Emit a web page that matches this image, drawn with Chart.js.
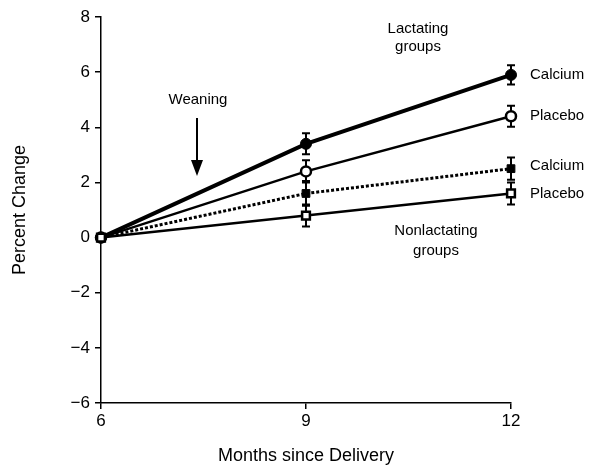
<!DOCTYPE html>
<html>
<head>
<meta charset="UTF-8">
<title>Percent Change</title>
<script src="https://cdn.jsdelivr.net/npm/chart.js"></script>
<style>
  body { margin: 0; background: #fff; }
  #wrap { width: 608px; height: 469px; }
</style>
</head>
<body>
<div id="wrap"><canvas id="chart" width="608" height="469"></canvas></div>
<script>
  const months = [6, 9, 12];
  const yTicks = [-6, -4, -2, 0, 2, 4, 6, 8];

  const lactCalcium = [0, 3.4, 5.9];
  const lactCalciumErr = [0, 0.38, 0.35];
  const lactPlacebo = [0, 2.4, 4.4];
  const lactPlaceboErr = [0, 0.4, 0.38];
  const nonCalcium = [0, 1.6, 2.5];
  const nonCalciumErr = [0, 0.45, 0.4];
  const nonPlacebo = [0, 0.8, 1.6];
  const nonPlaceboErr = [0, 0.4, 0.4];

  const pts = vals => vals.map((v, i) => ({ x: months[i], y: v }));
  const FONT = '"Liberation Sans", Arial, sans-serif';

  // error bars drawn from the scales, behind the markers
  const errorBars = {
    id: 'errorBars',
    beforeDatasetsDraw(chart) {
      const { ctx, scales: { x, y } } = chart;
      ctx.save();
      ctx.strokeStyle = '#000';
      ctx.lineWidth = 2;
      chart.data.datasets.forEach(ds => {
        ds.err.forEach((e, i) => {
          if (!e) return;
          const px = x.getPixelForValue(months[i]);
          const top = y.getPixelForValue(ds.data[i].y + e);
          const bot = y.getPixelForValue(ds.data[i].y - e);
          ctx.beginPath();
          ctx.moveTo(px, top); ctx.lineTo(px, bot);
          ctx.moveTo(px - 4, top); ctx.lineTo(px + 4, top);
          ctx.moveTo(px - 4, bot); ctx.lineTo(px + 4, bot);
          ctx.stroke();
        });
      });
      ctx.restore();
    }
  };

  const notes = {
    id: 'notes',
    afterDraw(chart) {
      const { ctx, scales: { x, y } } = chart;
      ctx.save();
      ctx.fillStyle = '#000';
      ctx.font = '15px ' + FONT;
      ctx.textAlign = 'center';
      ctx.textBaseline = 'middle';
      ctx.fillText('Lactating', 418, 29);
      ctx.fillText('groups', 418, 47);
      ctx.fillText('Nonlactating', 436, 231);
      ctx.fillText('groups', 436, 251);
      ctx.fillText('Weaning', 198, 100);
      ctx.textAlign = 'left';
      const rx = x.getPixelForValue(12) + 19;
      ctx.fillText('Calcium', rx, y.getPixelForValue(5.9));
      ctx.fillText('Placebo', rx, y.getPixelForValue(4.4));
      ctx.fillText('Calcium', rx, y.getPixelForValue(2.6));
      ctx.fillText('Placebo', rx, y.getPixelForValue(1.6));
      // weaning arrow
      ctx.strokeStyle = '#000';
      ctx.lineWidth = 2;
      ctx.beginPath();
      ctx.moveTo(197, 118); ctx.lineTo(197, 165);
      ctx.stroke();
      ctx.beginPath();
      ctx.moveTo(191, 160); ctx.lineTo(203, 160); ctx.lineTo(197, 176);
      ctx.closePath();
      ctx.fill();
      ctx.restore();
    }
  };

  new Chart(document.getElementById('chart'), {
    type: 'scatter',
    data: {
      datasets: [
        {
          label: 'Nonlactating Placebo', data: pts(nonPlacebo), err: nonPlaceboErr,
          showLine: true, borderColor: '#000', borderWidth: 2.5, clip: false,
          pointStyle: 'rect', pointRadius: 5.5, pointBackgroundColor: '#fff',
          pointBorderColor: '#000', pointBorderWidth: 2.5, order: 1
        },
        {
          label: 'Nonlactating Calcium', data: pts(nonCalcium), err: nonCalciumErr,
          showLine: true, borderColor: '#000', borderWidth: 3, borderDash: [3, 2], clip: false,
          pointStyle: 'rect', pointRadius: 5.5, pointBackgroundColor: '#000',
          pointBorderColor: '#000', pointBorderWidth: 1, order: 2
        },
        {
          label: 'Lactating Placebo', data: pts(lactPlacebo), err: lactPlaceboErr,
          showLine: true, borderColor: '#000', borderWidth: 2.5, clip: false,
          pointStyle: 'circle', pointRadius: 5, pointBackgroundColor: '#fff',
          pointBorderColor: '#000', pointBorderWidth: 2.5, order: 3
        },
        {
          label: 'Lactating Calcium', data: pts(lactCalcium), err: lactCalciumErr,
          showLine: true, borderColor: '#000', borderWidth: 4, clip: false,
          pointStyle: 'circle', pointRadius: 5.5, pointBackgroundColor: '#000',
          pointBorderColor: '#000', pointBorderWidth: 1, order: 4
        }
      ]
    },
    options: {
      responsive: false,
      animation: false,
      layout: { padding: { top: 17, right: 97, bottom: 2, left: 9 } },
      plugins: { legend: { display: false }, tooltip: { enabled: false } },
      scales: {
        x: {
          type: 'linear', min: 6, max: 12,
          ticks: { stepSize: 3, color: '#000', padding: 2, font: { size: 17, family: FONT } },
          grid: { display: true, drawOnChartArea: false, drawTicks: true, tickLength: 6, color: '#000', lineWidth: 1.5 },
          border: { display: true, color: '#000', width: 1.5 },
          title: { display: true, text: 'Months since Delivery', color: '#000', padding: { top: 12, bottom: 0 },
            font: { size: 18, family: FONT } }
        },
        y: {
          type: 'linear', min: -6, max: 8,
          afterBuildTicks: s => { s.ticks = yTicks.map(v => ({ value: v })); },
          ticks: { color: '#000', padding: 5,
            callback: v => v < 0 ? '\u2212' + Math.abs(v) : String(v),
            font: { size: 17, family: FONT } },
          grid: { display: true, drawOnChartArea: false, drawTicks: true, tickLength: 6, color: '#000', lineWidth: 1.5 },
          border: { display: true, color: '#000', width: 1.5 },
          title: { display: true, text: 'Percent Change', color: '#000', padding: { top: 0, bottom: 35 },
            font: { size: 18, family: FONT } }
        }
      }
    },
    plugins: [errorBars, notes]
  });
</script>
</body>
</html>
